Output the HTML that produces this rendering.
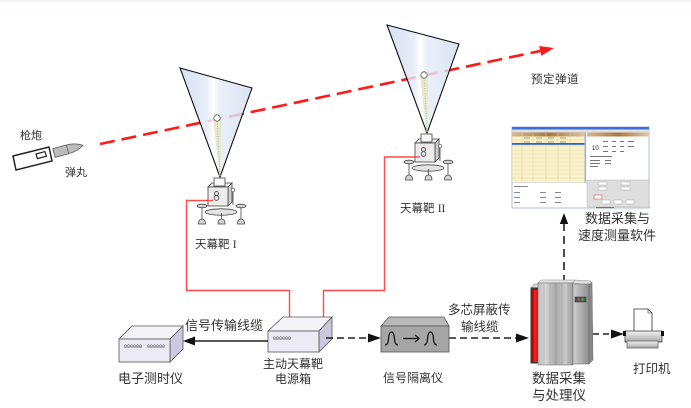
<!DOCTYPE html>
<html>
<head>
<meta charset="utf-8">
<style>
html,body{margin:0;padding:0;background:#fff;}
svg{display:block;}
text{font-family:"Liberation Sans","Noto Sans CJK SC",sans-serif;fill:#333;}
</style>
</head>
<body>
<svg width="691" height="408" viewBox="0 0 691 408" xmlns="http://www.w3.org/2000/svg">
<defs>
  <linearGradient id="cone" x1="0" y1="0" x2="1" y2="0">
    <stop offset="0" stop-color="#cddaf0"/>
    <stop offset="0.38" stop-color="#e3eaf7"/>
    <stop offset="0.46" stop-color="#ffffff"/>
    <stop offset="0.55" stop-color="#e6edf8"/>
    <stop offset="1" stop-color="#d2ddf1"/>
  </linearGradient>
  <linearGradient id="red" x1="0" y1="0" x2="1" y2="0">
    <stop offset="0" stop-color="#8a0000"/>
    <stop offset="0.4" stop-color="#ff2020"/>
    <stop offset="1" stop-color="#c00000"/>
  </linearGradient>
  <linearGradient id="body" x1="0" y1="0" x2="1" y2="0">
    <stop offset="0" stop-color="#bdbdbd"/>
    <stop offset="0.2" stop-color="#d8d8d8"/>
    <stop offset="0.5" stop-color="#a9a9a9"/>
    <stop offset="0.8" stop-color="#c9c9c9"/>
    <stop offset="1" stop-color="#9a9a9a"/>
  </linearGradient>
  <linearGradient id="side" x1="0" y1="0" x2="1" y2="0">
    <stop offset="0" stop-color="#cfcfcf"/>
    <stop offset="1" stop-color="#8f8f8f"/>
  </linearGradient>
  <linearGradient id="pr" x1="0" y1="0" x2="0" y2="1">
    <stop offset="0" stop-color="#f2f2f2"/>
    <stop offset="1" stop-color="#a8a8a8"/>
  </linearGradient>
  <linearGradient id="hdr" x1="0" y1="0" x2="1" y2="0">
    <stop offset="0" stop-color="#d9b890"/>
    <stop offset="0.5" stop-color="#a87840"/>
    <stop offset="1" stop-color="#e0c8a8"/>
  </linearGradient>
  <g id="dev">
    <ellipse cx="1" cy="35" rx="16" ry="3.2" fill="#e4e4e4" stroke="#444" stroke-width="0.8"/>
    <g stroke="#444" stroke-width="0.8" fill="#d4d4d4">
      <line x1="-18" y1="30" x2="-18" y2="44"/>
      <ellipse cx="-18" cy="29" rx="5" ry="1.8"/>
      <path d="M-21.5,47 q0,-5 3.5,-5 q3.5,0 3.5,5 z"/>
      <line x1="21" y1="30" x2="21" y2="44"/>
      <ellipse cx="21" cy="29" rx="5" ry="1.8"/>
      <path d="M17.5,47 q0,-5 3.5,-5 q3.5,0 3.5,5 z"/>
      <line x1="1.5" y1="36" x2="1.5" y2="44"/>
      <path d="M-2,47 q0,-5 3.5,-5 q3.5,0 3.5,5 z"/>
    </g>
    <polygon points="-12,10 -8,6 12,6 8,10" fill="#f2f2f2" stroke="#444" stroke-width="0.8"/>
    <polygon points="8,10 12,6 12,25 8,29" fill="#cfcfcf" stroke="#444" stroke-width="0.8"/>
    <rect x="-12" y="10" width="20" height="19" fill="#ececec" stroke="#444" stroke-width="0.8"/>
    <circle cx="-3.5" cy="16.5" r="2" fill="none" stroke="#555" stroke-width="0.9"/>
    <circle cx="-3.5" cy="21" r="2.3" fill="none" stroke="#555" stroke-width="0.9"/>
    <rect x="-6" y="1" width="11" height="8" fill="#fafafa" stroke="#444" stroke-width="0.8"/>
    <circle cx="13" cy="13" r="1.8" fill="#fff" stroke="#444" stroke-width="0.7"/>
    <line x1="13" y1="15" x2="13" y2="28" stroke="#444" stroke-width="0.8"/>
  </g>
</defs>

<rect x="0" y="0" width="691" height="2" fill="#eef3ee"/>

<!-- trajectory -->
<line x1="100" y1="144" x2="541" y2="50.8" stroke="#ff1a1a" stroke-width="2.6" stroke-dasharray="15 7"/>
<polygon points="554,48 541.3,55.8 539.3,46" fill="#ff1a1a"/>

<!-- cones -->
<polygon points="180,68 252,88 220,177" fill="url(#cone)" fill-opacity="0.82" stroke="#111" stroke-width="1.1"/>
<polygon points="213.5,121 221,121 220.5,176 219.5,176" fill="#e4e8cc"/>
<line x1="217.3" y1="121" x2="220" y2="175" stroke="#c0c69a" stroke-width="1" stroke-dasharray="1 1.5"/>
<circle cx="217" cy="118" r="3.2" fill="#fff" stroke="#555" stroke-width="0.8"/>

<polygon points="387,25 459,44 427,133" fill="url(#cone)" fill-opacity="0.82" stroke="#111" stroke-width="1.1"/>
<polygon points="420.5,78 428,78 427.5,132 426.5,132" fill="#e4e8cc"/>
<line x1="424.2" y1="78" x2="427" y2="131" stroke="#c0c69a" stroke-width="1" stroke-dasharray="1 1.5"/>
<circle cx="424" cy="75" r="3.2" fill="#fff" stroke="#555" stroke-width="0.8"/>

<!-- red wires -->
<path d="M213,200.5 H186.5 V290.5 H289.5 V319" fill="none" stroke="#ff4a4a" stroke-width="1.4"/>
<path d="M420,157 H384.5 V290.5 H323.5 V319" fill="none" stroke="#ff4a4a" stroke-width="1.4"/>

<!-- devices -->
<use href="#dev" x="220" y="177"/>
<use href="#dev" x="427" y="133"/>
<path d="M213,200.5 H208" stroke="#ff4a4a" stroke-width="1.4"/>
<path d="M420,157 H415" stroke="#ff4a4a" stroke-width="1.4"/>

<!-- gun & bullet -->
<polygon points="13,156 49,147 52,161 16,170" fill="#fff" stroke="#222" stroke-width="1.5"/>
<polygon points="36,154 45,151.6 46.4,156.2 37.4,158.6" fill="#fff" stroke="#222" stroke-width="1.2"/>
<g transform="translate(54,153) rotate(-15)">
  <path d="M0,-4.5 H14 C22,-4.5 27,-2 30,0 C27,2 22,4.5 14,4.5 H0 Z" fill="#bcbcbc" stroke="#555" stroke-width="0.8"/>
  <line x1="14" y1="-4.5" x2="14" y2="4.5" stroke="#666" stroke-width="0.8"/>
</g>

<!-- screenshot -->
<g>
  <rect x="512" y="127" width="137" height="81" fill="#fff" stroke="#7a8fc0" stroke-width="0.6"/>
  <rect x="512" y="127" width="137" height="2.5" fill="#3a6fd8"/>
  <rect x="512" y="129.5" width="137" height="3" fill="#e0e0e0"/>
  <rect x="512" y="132.5" width="74" height="50" fill="#fbf2cc" stroke="#bbb" stroke-width="0.4"/>
  <rect x="512" y="132.5" width="74" height="4" fill="url(#hdr)"/>
  <g stroke="#e0d29a" stroke-width="0.5">
    <line x1="512" y1="140" x2="586" y2="140"/><line x1="512" y1="146" x2="586" y2="146"/>
    <line x1="512" y1="150" x2="586" y2="150"/><line x1="512" y1="154" x2="586" y2="154"/>
    <line x1="512" y1="158" x2="586" y2="158"/><line x1="512" y1="162" x2="586" y2="162"/>
    <line x1="512" y1="166" x2="586" y2="166"/><line x1="512" y1="170" x2="586" y2="170"/>
    <line x1="512" y1="174" x2="586" y2="174"/><line x1="512" y1="178" x2="586" y2="178"/>
    <line x1="522" y1="133" x2="522" y2="182"/><line x1="533" y1="133" x2="533" y2="182"/>
    <line x1="546" y1="133" x2="546" y2="182"/><line x1="558" y1="133" x2="558" y2="182"/>
    <line x1="570" y1="133" x2="570" y2="182"/>
  </g>
  <g fill="#a09880">
    <rect x="524" y="137.5" width="6" height="1"/><rect x="536" y="137.5" width="6" height="1"/>
    <rect x="548" y="137.5" width="6" height="1"/><rect x="560" y="137.5" width="6" height="1"/>
    <rect x="524" y="141.5" width="6" height="1"/><rect x="536" y="141.5" width="6" height="1"/>
    <rect x="548" y="141.5" width="6" height="1"/><rect x="560" y="141.5" width="6" height="1"/>
  </g>
  <rect x="512" y="143" width="73" height="1.8" fill="#2f62c8"/>
  <rect x="584.5" y="132.5" width="1.5" height="50" fill="#9bb4e0"/>
  <rect x="587" y="132.5" width="62" height="4" fill="url(#hdr)"/>
  <text x="592" y="150" font-size="6" style="fill:#222">10</text>
  <g fill="#777">
    <rect x="603" y="141" width="5" height="1"/><rect x="612" y="141" width="4" height="1"/><rect x="620" y="141" width="4" height="1"/><rect x="628" y="141" width="6" height="1"/>
    <rect x="603" y="146" width="5" height="1"/><rect x="612" y="146" width="4" height="1"/><rect x="620" y="146" width="4" height="1"/><rect x="628" y="146" width="6" height="1"/>
    <rect x="603" y="151" width="5" height="1"/><rect x="612" y="151" width="4" height="1"/><rect x="620" y="151" width="4" height="1"/>
    <rect x="590" y="156" width="22" height="1"/><rect x="590" y="160" width="10" height="1"/><rect x="605" y="160" width="6" height="1"/>
    <rect x="590" y="163" width="10" height="1"/><rect x="605" y="163" width="6" height="1"/>
    <rect x="590" y="166" width="8" height="1"/>
  </g>
  <rect x="587" y="180" width="62" height="27" fill="#dedede" stroke="#aaa" stroke-width="0.4"/>
  <g fill="#fff" stroke="#999" stroke-width="0.4">
    <rect x="598" y="182" width="9" height="3"/><rect x="621" y="182" width="9" height="3"/>
    <rect x="598" y="187" width="9" height="3"/><rect x="621" y="187" width="9" height="3"/>
    <rect x="602" y="200" width="8" height="4"/><rect x="614" y="200" width="8" height="4"/><rect x="626" y="200" width="8" height="4"/>
  </g>
  <rect x="594" y="195" width="8" height="4" fill="#fff" stroke="#e05050" stroke-width="0.6"/>
  <rect x="596" y="207" width="18" height="1.2" fill="#3c9a3c"/>
  <g fill="#888">
    <rect x="514" y="186" width="14" height="1"/>
    <rect x="514" y="192" width="6" height="1"/><rect x="540" y="192" width="6" height="1"/><rect x="555" y="192" width="6" height="1"/>
    <rect x="514" y="197" width="6" height="1"/><rect x="540" y="197" width="6" height="1"/><rect x="555" y="197" width="6" height="1"/>
    <rect x="514" y="202" width="6" height="1"/><rect x="540" y="202" width="6" height="1"/><rect x="555" y="202" width="6" height="1"/>
  </g>
</g>

<!-- vertical dashed arrow up -->
<line x1="564" y1="283" x2="564" y2="223" stroke="#111" stroke-width="1.5" stroke-dasharray="8 5"/>
<polygon points="564,213 559.8,224 568.2,224" fill="#111"/>

<!-- timer box -->
<polygon points="119,339 132,326 183,326 170,339" fill="#f4f3f8" stroke="#555" stroke-width="0.8"/>
<polygon points="170,339 183,326 183,349 170,362" fill="#cec7e0" stroke="#555" stroke-width="0.8"/>
<rect x="119" y="339" width="51" height="23" fill="#eceaf4" stroke="#555" stroke-width="0.8"/>
<text x="124" y="348" font-size="5" style="fill:#444;font-family:'Liberation Mono',monospace">000000</text>
<text x="147" y="348" font-size="5" style="fill:#444;font-family:'Liberation Mono',monospace">000000</text>

<!-- power box -->
<polygon points="268,331 283,317 332,317 319,331" fill="#f4f3f8" stroke="#555" stroke-width="0.8"/>
<polygon points="319,331 332,317 332,339 319,352" fill="#cec7e0" stroke="#555" stroke-width="0.8"/>
<rect x="268" y="331" width="51" height="21" fill="#eceaf4" stroke="#555" stroke-width="0.8"/>
<text x="273" y="340" font-size="5" style="fill:#444;font-family:'Liberation Mono',monospace">000000</text>

<!-- solid arrow to timer -->
<line x1="268" y1="341" x2="192" y2="341" stroke="#222" stroke-width="1.6"/>
<polygon points="183,341 195,336.5 195,345.5" fill="#111"/>

<!-- dashed arrow power -> isolator -->
<line x1="326" y1="338" x2="369" y2="338" stroke="#222" stroke-width="1.5" stroke-dasharray="7 4"/>
<polygon points="381,338 368,333.5 368,342.5" fill="#111"/>

<!-- isolator -->
<polygon points="381,326 389,317 444,317 449,326" fill="#b9b9b9" stroke="#555" stroke-width="0.8"/>
<rect x="381" y="326" width="68" height="26" fill="#a6a6a6" stroke="#555" stroke-width="0.8"/>
<g fill="none" stroke="#111" stroke-width="1.2">
  <path d="M385,345 q3,0 3.5,-6 q0.5,-7 3,-7 q2.5,0 3,7 q0.5,6 3.5,6"/>
  <path d="M424,345 q3,0 3.5,-6 q0.5,-7 3,-7 q2.5,0 3,7 q0.5,6 3.5,6"/>
  <path d="M403,338.5 H419 M415,335 L419,338.5 L415,342"/>
</g>

<!-- dashed isolator -> server -->
<line x1="449" y1="338" x2="516" y2="338" stroke="#222" stroke-width="1.5" stroke-dasharray="7 4"/>
<polygon points="529,338 516,333.5 516,342.5" fill="#111"/>

<!-- server -->
<polygon points="531,288 534,284 540,284 538,288" fill="#d8d8d8" stroke="#777" stroke-width="0.5"/>
<rect x="530.5" y="287.5" width="9" height="76" fill="#3a3a3a"/>
<rect x="532" y="290" width="7" height="72" fill="url(#red)"/>
<polygon points="538,283 541,280 575,280 573,283" fill="#e4e4e4" stroke="#888" stroke-width="0.5"/>
<rect x="538" y="283" width="35" height="82" fill="url(#body)" stroke="#777" stroke-width="0.6"/>
<g stroke="#999" stroke-width="0.5">
  <line x1="544" y1="284" x2="544" y2="364"/><line x1="550" y1="284" x2="550" y2="364"/>
  <line x1="556" y1="284" x2="556" y2="364"/><line x1="562" y1="284" x2="562" y2="364"/>
  <line x1="568" y1="284" x2="568" y2="364"/>
</g>
<polygon points="573,283 575,280 591,281 589,285" fill="#e0e0e0" stroke="#888" stroke-width="0.5"/>
<rect x="573" y="284" width="16" height="80" fill="url(#side)" stroke="#777" stroke-width="0.6"/>
<polygon points="589,285 592,282 593,360 589,364" fill="#8a8a8a" stroke="#666" stroke-width="0.5"/>
<rect x="575" y="297" width="11" height="5" fill="#555" stroke="#333" stroke-width="0.5"/>
<circle cx="579" cy="299.5" r="1.2" fill="#e04040"/>
<circle cx="582.5" cy="299.5" r="1.2" fill="#40c040"/>

<!-- dashed server -> printer -->
<line x1="593" y1="334" x2="612" y2="334" stroke="#222" stroke-width="1.5" stroke-dasharray="6 4"/>
<polygon points="624,334 611,329.5 611,338.5" fill="#111"/>

<!-- printer -->
<path d="M634,309 H648 L652,313 V332 H634 Z" fill="#fff" stroke="#333" stroke-width="0.8"/>
<path d="M648,309 V313 H652" fill="none" stroke="#333" stroke-width="0.6"/>
<rect x="625" y="331" width="37" height="11" fill="url(#pr)" stroke="#444" stroke-width="0.8"/>
<rect x="623" y="331" width="3" height="5" fill="#111"/>
<rect x="661" y="331" width="3" height="5" fill="#111"/>
<rect x="627" y="341" width="31" height="7" fill="url(#pr)" stroke="#555" stroke-width="0.7"/>

<!-- labels -->
<text x="20" y="139" font-size="11">枪炮</text>
<text x="65" y="176" font-size="11">弹丸</text>
<text x="531" y="83" font-size="11.5" letter-spacing="0.5">预定弹道</text>
<text x="195" y="248" font-size="11.5">天幕靶 <tspan style="font-family:'Liberation Serif',serif">I</tspan></text>
<text x="400" y="212" font-size="11.5">天幕靶 <tspan style="font-family:'Liberation Serif',serif">II</tspan></text>
<text x="585" y="223" font-size="13">数据采集与</text>
<text x="578" y="240" font-size="13">速度测量软件</text>
<text x="185" y="330" font-size="13">信号传输线缆</text>
<text x="118" y="383" font-size="13">电子测时仪</text>
<text x="263" y="368" font-size="12">主动天幕靶</text>
<text x="275" y="383" font-size="12">电源箱</text>
<text x="383" y="382" font-size="12">信号隔离仪</text>
<text x="448" y="314" font-size="12.5">多芯屏蔽传</text>
<text x="461" y="331" font-size="12.5">输线缆</text>
<text x="532" y="383" font-size="13.5">数据采集</text>
<text x="532" y="400" font-size="13.5">与处理仪</text>
<text x="633" y="373" font-size="12.5">打印机</text>
</svg>
</body>
</html>
